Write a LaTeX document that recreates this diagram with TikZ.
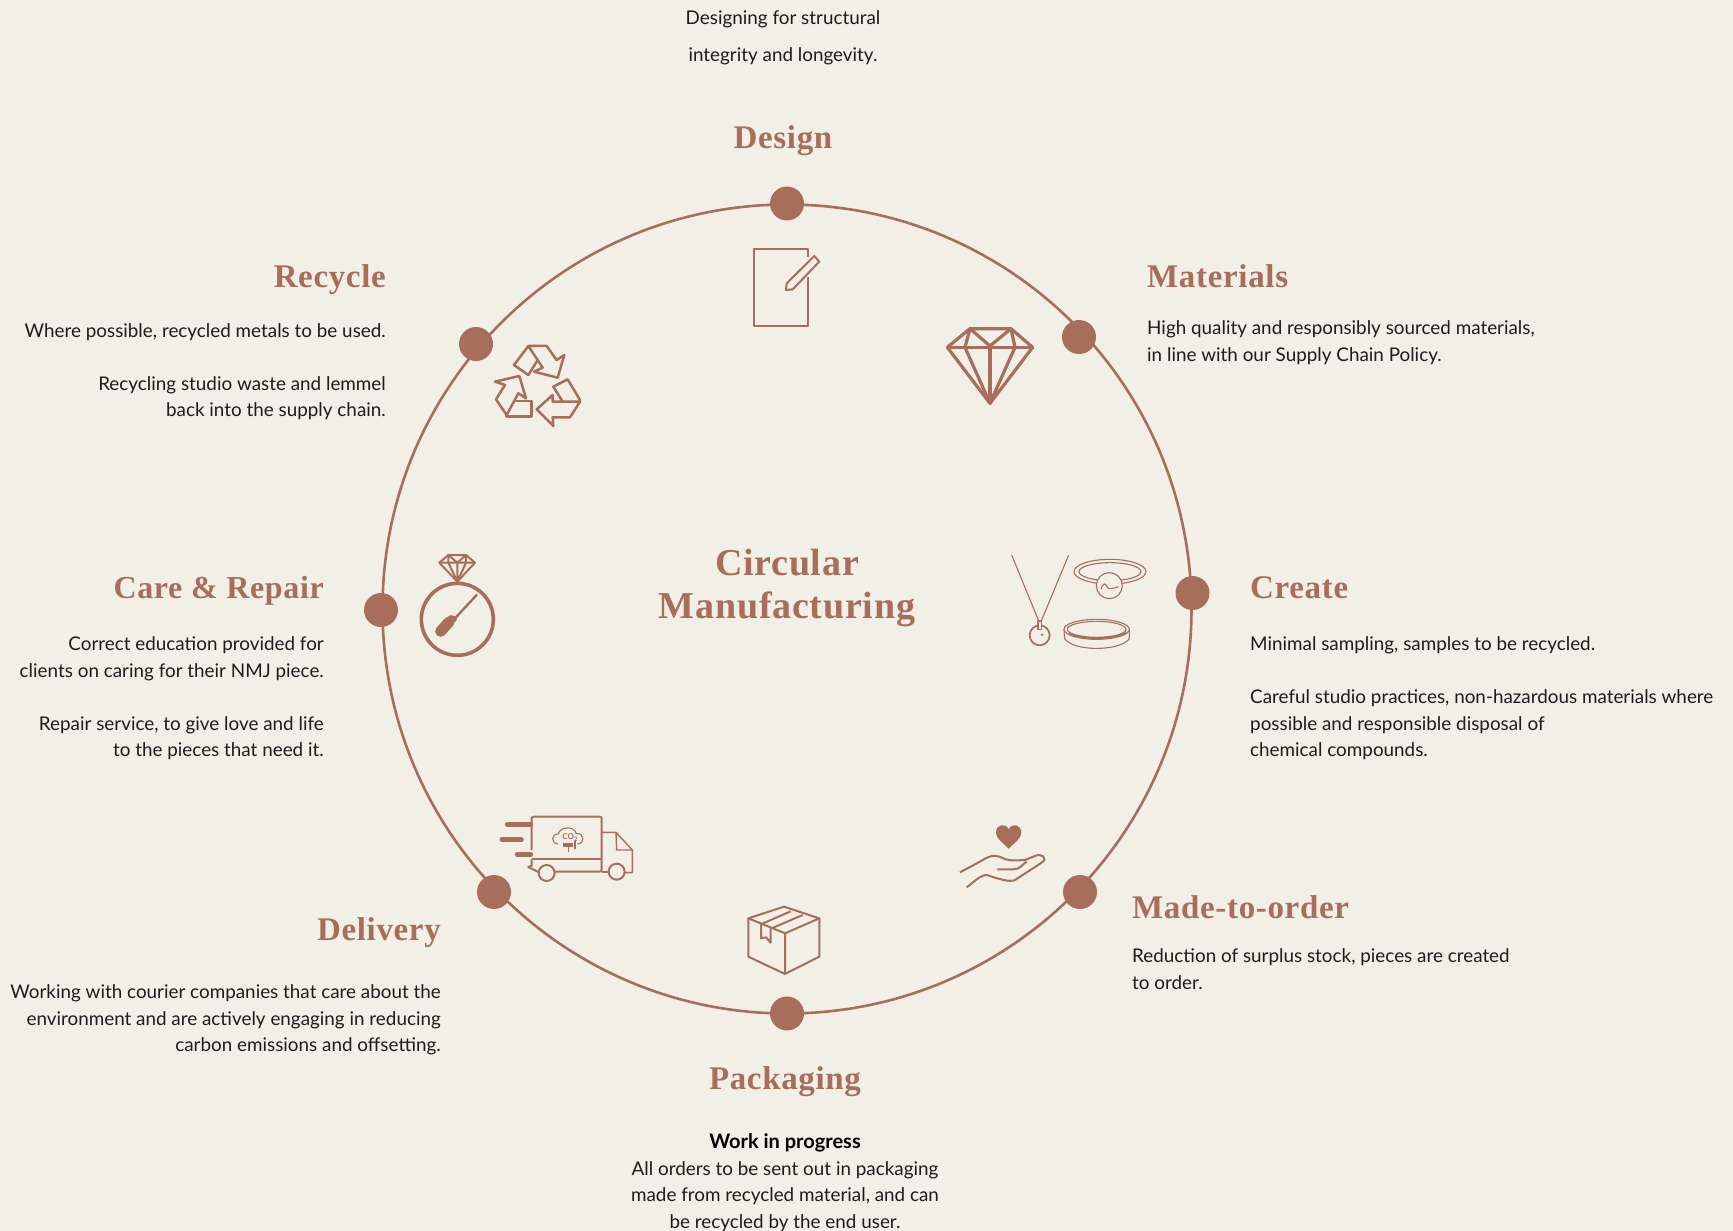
\documentclass[tikz,border=0pt]{standalone}
\usepackage{fontspec}
\setmainfont{Lato}
\newfontfamily\headfont[LetterSpace=2.0]{Liberation Serif}
\usetikzlibrary{positioning}
\definecolor{clay}{HTML}{A66E5B}
\definecolor{paper}{HTML}{F2EFE6}
\definecolor{ink}{HTML}{1C1C1C}

\begin{document}
\begin{tikzpicture}[%
    x=1pt, y=-1pt,              % Work in the pixels of the reference
    line join=round,
    ]
% -------------------------------------------------
% A few styles
\tikzset{
  dot/.style={circle, fill=clay, inner sep=0pt, minimum size=34pt},
  head/.style={inner sep=0pt, text=clay, font={\headfont\bfseries\fontsize{33}{38}\selectfont}},
  title/.style={inner sep=0pt, text=clay, align=center, font={\headfont\bfseries\fontsize{38}{43}\selectfont}},
  para/.style={inner sep=0pt, text=ink, font={\fontsize{18.85}{26.5}\selectfont}},
  paral/.style={para, anchor=north west, align=left},
  parar/.style={para, anchor=north east, align=right},
  parac/.style={para, anchor=north, align=center},
  icon/.style={draw=clay, line width=2pt},
  fineicon/.style={draw=clay, line width=1.1pt},
  heavyicon/.style={draw=clay, line width=3.2pt},
  zoomed/.style={x=0.3333pt, y=-0.3333pt}
}
% -------------------------------------------------
\fill [paper] (0,0) rectangle (1733,1231);
\useasboundingbox (0,0) rectangle (1733,1231);

% The ring and its dots
\draw [clay, line width=2.6pt] (787,609) circle (404.5);
\foreach \name/\px/\py in {design/787/203.5, materials/1079/337, create/1192.5/593,
    madetoorder/1080/892, packaging/787/1013.5, delivery/494/892, care/381/610, recycle/476/344}
  \node [dot] (dot\name) at (\px,\py) {};

% -------------------------------------------------
% Headings
\node [title] (centre) at (787,588) {Circular\\Manufacturing};
\node [head, anchor=base] (design) at (783,148) {Design};
\node [head, anchor=base west] (materials) at (1147,287) {Materials};
\node [head, anchor=base west] (create) at (1250,598) {Create};
\node [head, anchor=base west] (madetoorder) at (1132,918) {Made-to-order};
\node [head, anchor=base] (packaging) at (785,1089) {Packaging};
\node [head, anchor=base east] (delivery) at (441,940) {Delivery};
\node [head, anchor=base east, font={\headfont\bfseries\fontsize{32}{38}\selectfont}] (care) at (324,598) {Care \& Repair};
\node [head, anchor=base east] (recycle) at (386,287) {Recycle};

% Body text
\node [parac, font={\fontsize{18.85}{37}\selectfont}] (designtext) at (783,10) {Designing for structural\\integrity and longevity.};
\node [paral] (materialstext) at (1147,320.5) {High quality and responsibly sourced materials,\\in line with our Supply Chain Policy.};
\node [paral] (createtext) at (1250,636.5) {Minimal sampling, samples to be recycled.\\[26.5pt]Careful studio practices, non-hazardous materials where\\possible and responsible disposal of\\chemical compounds.};
\node [paral] (madetoordertext) at (1132,948.5) {Reduction of surplus stock, pieces are created\\to order.};
\node [parac] (packagingtext) at (785,1133.5) {{\fontsize{20}{26.5}\selectfont\textbf{\textcolor{black}{Work in progress}}}\\All orders to be sent out in packaging\\made from recycled material, and can\\be recycled by the end user.};
\node [parar] (deliverytext) at (441,984.5) {Working with courier companies that care about the\\environment and are actively engaging in reducing\\carbon emissions and offsetting.};
\node [parar] (caretext) at (324,636.5) {Correct education provided for\\clients on caring for their NMJ piece.\\[26.5pt]Repair service, to give love and life\\to the pieces that need it.};
\node [parar] (recycletext) at (386,323) {Where possible, recycled metals to be used.\\[26.5pt]Recycling studio waste and lemmel\\back into the supply chain.};

% -------------------------------------------------
% Icons, each traced in its own small frame
% Sheet and pencil
\begin{scope}[shift={(720,230)}, zoomed]
  \draw [icon] (265,80) -- (265,57) -- (103,57) -- (103,287) -- (265,287) -- (265,140);
  \draw [icon] (283,78) -- (298,95) -- (218,178) -- (198,180) -- (200,160) -- cycle;
\end{scope}
% Diamond
\begin{scope}[shift={(720,230)}, zoomed]
  \draw [heavyicon] (682,352) -- (750,296) -- (873,296) -- (938,352) -- (810,520) -- cycle;
  \draw [heavyicon] (682,352) -- (938,352);
  \draw [heavyicon] (750,296) -- (735,352) -- (810,520) -- (885,352) -- (873,296);
  \draw [heavyicon] (750,296) -- (810,348) -- (873,296);
  \draw [heavyicon] (810,348) -- (810,520);
\end{scope}
% Recycling arrows
\begin{scope}[shift={(400,320)}, zoomed, line width=2.5pt]
  \draw [draw=clay] (385,78) -- (440,78) -- (470,120) -- (493,105) -- (473,173) -- (402,155) -- (428,143) -- cycle;
  \draw [draw=clay] (385,78) -- (342,135) -- (385,165) -- (412,122);
  \draw [draw=clay] (285,185) -- (358,168) -- (378,235) -- (355,220) -- (320,285) -- (288,238) -- (315,195) -- cycle;
  \draw [draw=clay] (340,243) -- (395,243) -- (395,290) -- (320,290) -- (320,285);
  \draw [draw=clay] (410,268) -- (458,225) -- (458,245) -- (540,245) -- (510,292) -- (458,292) -- (460,318) -- cycle;
  \draw [draw=clay] (488,245) -- (460,200) -- (503,178) -- (540,240) -- (538,247);
\end{scope}
% Ring with screwdriver
\begin{scope}[shift={(400,540)}, zoomed]
  \draw [draw=clay, line width=3.6pt] (172,238) circle (108);
  \draw [icon] (118,68) -- (145,45) -- (198,45) -- (225,68) -- (172,125) -- cycle;
  \draw [icon] (118,68) -- (225,68) (145,45) -- (172,68) -- (198,45) (172,68) -- (172,125)
    (145,45) -- (145,68) -- (172,125) -- (198,68) -- (198,45);
  \draw [draw=clay, line width=2.4pt, line cap=round] (230,165) -- (165,235);
  \draw [draw=clay, line width=5pt] (170,238) -- (148,232);
  \draw [draw=clay, line width=11pt, line cap=round] (148,245) -- (122,274);
\end{scope}
% Necklace, signet and band
\begin{scope}[shift={(990,540)}, zoomed]
  \draw [fineicon] (65,45) -- (147,245) (236,45) -- (153,245);
  \draw [draw=clay, line width=1.7pt] (149,286) circle (30);
  \draw [fineicon, fill=paper] (144,243) rectangle (154,268);
  \fill [clay] (156,284) circle (4);
  \draw [fineicon] (360,95) ellipse (108 and 37);
  \draw [fineicon] (360,95) ellipse (93 and 27);
  \draw [fineicon, fill=paper] (358,137) circle (39);
  \draw [fineicon] (333,148) .. controls (340,125) and (348,130) .. (352,142) .. controls (358,150) and (370,145) .. (385,140);
  \draw [fineicon] (320,268) ellipse (98 and 30);
  \draw [fineicon] (320,268) ellipse (88 and 24);
  \draw [draw=clay, line width=1.7pt] (236,278) .. controls (270,300) and (370,300) .. (408,278);
  \draw [fineicon] (222,270) -- (224,296) .. controls (250,335) and (390,335) .. (418,296) -- (418,270);
\end{scope}
% Van
\begin{scope}[shift={(490,800)}, zoomed]
  \draw [draw=clay, line width=5pt, line cap=round] (52,72) -- (122,72) (36,118) -- (94,118) (82,163) -- (122,163);
  \draw [icon, rounded corners=2pt] (125,150) -- (125,50) -- (335,50) -- (335,215) -- (195,215);
  \draw [icon] (125,178) -- (335,178);
  \draw [icon] (125,178) -- (125,197) -- (115,201) -- (145,216);
  \draw [fineicon, line width=1.4pt] (335,97) -- (378,97) -- (427,150) -- (427,218) -- (405,218);
  \draw [fineicon, line width=1.4pt] (378,97) -- (380,150) -- (427,150);
  \draw [icon] (355,215) -- (335,215);
  \draw [icon] (170,219) circle (24);
  \draw [icon] (380,215) circle (24);
  \draw [fineicon] (205,132) .. controls (180,130) and (185,100) .. (205,102) .. controls (210,78) and (255,78) .. (258,100)
    .. controls (285,98) and (285,132) .. (262,132);
  \node [inner sep=0pt, text=clay, font={\fontsize{8}{9}\bfseries\selectfont}] (co) at (240,112) {CO\raisebox{-1.5pt}{\fontsize{6}{7}\selectfont 2}};
  \fill [clay] (218,128) rectangle (250,142);
  \draw [fineicon] (235,142) -- (235,156);
  \draw [fineicon] (255,124) -- (255,148);
\end{scope}
% Parcel
\begin{scope}[shift={(730,810)}, zoomed]
  \draw [icon] (55,325) -- (162,290) -- (268,325) -- (165,370) -- cycle;
  \draw [icon] (55,325) -- (55,440) -- (165,492) -- (268,440) -- (268,325) (165,370) -- (165,492);
  \draw [icon] (95,342) -- (182,304) (125,355) -- (218,315);
  \draw [icon] (93,342) -- (93,385) -- (108,382) -- (122,398) -- (122,355);
\end{scope}
% Hand and heart
\begin{scope}[shift={(730,810)}, zoomed]
  \draw [icon] (690,187) -- (750,155) .. controls (775,140) and (790,130) .. (820,145) .. controls (840,155) and (870,150) .. (885,150)
    -- (915,138) .. controls (935,128) and (955,145) .. (935,158) -- (855,210) .. controls (840,218) and (800,205) .. (770,195)
    .. controls (750,195) and (730,218) .. (710,232);
  \draw [icon] (802,178) -- (850,178) .. controls (870,178) and (875,165) .. (890,155);
  \fill [clay] (836,116) .. controls (815,95) and (798,85) .. (798,68) .. controls (798,42) and (828,38) .. (836,58)
    .. controls (844,38) and (874,42) .. (874,68) .. controls (874,85) and (857,95) .. (836,116) -- cycle;
\end{scope}
% -------------------------------------------------
\end{tikzpicture}
\end{document}
